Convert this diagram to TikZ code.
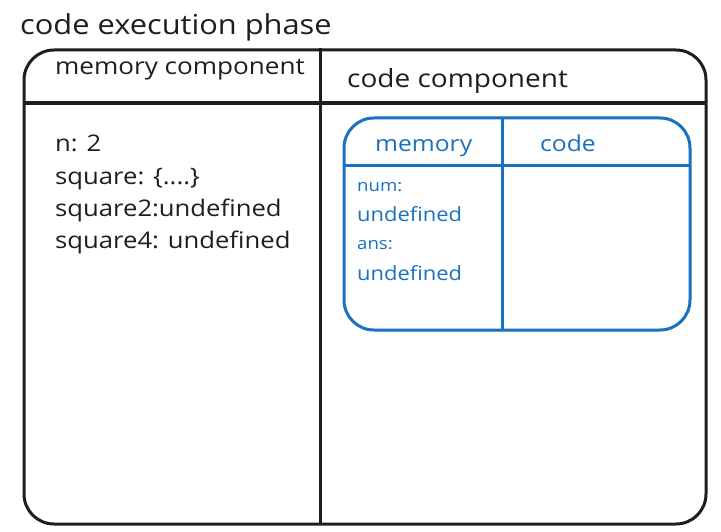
\documentclass[tikz,border=0pt]{standalone}
\usepackage{fontspec}
\setmainfont{Open Sans}[FakeStretch=1.12]
\definecolor{ink}{HTML}{1E1E1E}
\definecolor{exblue}{HTML}{1971C2}
\begin{document}
\begin{tikzpicture}[x=1pt,y=-1pt,
  frame/.style={draw=ink,line width=3pt,line join=round},
  bframe/.style={draw=exblue,line width=3pt,line join=round},
  lbl/.style={anchor=base west,inner sep=0pt,text=ink},
  blbl/.style={anchor=base west,inner sep=0pt,text=exblue}]
\useasboundingbox[fill=white] (0,0) rectangle (721,532);
% outer frame
\coordinate (otl) at (24,50);
\coordinate (obr) at (706,524);
\draw[frame,rounded corners=30pt] (otl) rectangle (obr);
\coordinate (hl) at (24,103);
\coordinate (hr) at (707,103);
\draw[frame,line width=4pt] (hl) -- (hr);
\coordinate (vt) at (320,48);
\coordinate (vb) at (320,524);
\draw[frame] (vt) -- (vb);
% inner blue frame
\coordinate (itl) at (344,118);
\coordinate (ibr) at (690,330);
\draw[bframe,rounded corners=30pt] (itl) rectangle (ibr);
\coordinate (ihl) at (344,166);
\coordinate (ihr) at (690,166);
\draw[bframe] (ihl) -- (ihr);
\coordinate (ivt) at (502,118);
\coordinate (ivb) at (502,330);
\draw[bframe] (ivt) -- (ivb);
% texts
\node[lbl,font=\fontsize{27.5}{32}\selectfont] (title) at (20,35) {code execution phase};
\node[lbl,font=\fontsize{23.3}{28}\selectfont] (memc) at (55,75) {memory component};
\node[lbl,font=\fontsize{25}{30}\selectfont] (codec) at (347,88) {code component};
\node[lbl,font=\fontsize{22.9}{27}\selectfont] (l1) at (55,152) {n: 2};
\node[lbl,font=\fontsize{22.9}{27}\selectfont] (l2) at (55,185) {square: \{....\}};
\node[lbl,font=\fontsize{22.9}{27}\selectfont] (l3) at (55,217) {square2:undefined};
\node[lbl,font=\fontsize{22.9}{27}\selectfont] (l4) at (55,248) {square4: undefined};
\node[blbl,font=\fontsize{22}{26}\selectfont] (bm) at (375,152) {memory};
\node[blbl,font=\fontsize{22}{26}\selectfont] (bc) at (540,152) {code};
\node[blbl,font=\fontsize{16.6}{20}\selectfont] (b1) at (357,192) {num:};
\node[blbl,font=\fontsize{19.6}{23}\selectfont] (b2) at (357,222) {undefined};
\node[blbl,font=\fontsize{16.6}{20}\selectfont] (b3) at (357,250) {ans:};
\node[blbl,font=\fontsize{19.6}{23}\selectfont] (b4) at (357,280) {undefined};
\end{tikzpicture}
\end{document}
